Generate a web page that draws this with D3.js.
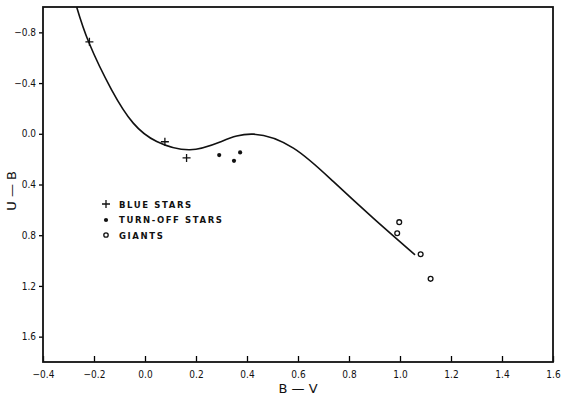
<!DOCTYPE html>
<html>
<head>
<meta charset="utf-8">
<script src="https://cdn.jsdelivr.net/npm/d3@7"></script>
<style>
  body { margin: 0; background: #fff; }
  svg { display: block; }
</style>
</head>
<body>
<div id="chart"></div>
<script>
// two-colour diagram, B-V vs U-B
const xTicks = [-0.4, -0.2, 0.0, 0.2, 0.4, 0.6, 0.8, 1.0, 1.2, 1.4, 1.6];
const yTicks = [-0.8, -0.4, 0.0, 0.4, 0.8, 1.2, 1.6];

const curveBV = [-0.268, -0.22, -0.131, -0.046, 0.046, 0.176, 0.30, 0.425, 0.582, 0.738, 0.895, 1.059];
const curveUB = [-1.0, -0.72, -0.347, -0.084, 0.061, 0.126, 0.06, 0.003, 0.113, 0.376, 0.665, 0.955];

const blueBV = [-0.218, 0.078, 0.163];
const blueUB = [-0.725, 0.063, 0.19];
const turnBV = [0.291, 0.349, 0.373];
const turnUB = [0.168, 0.213, 0.147];
const giantBV = [0.997, 0.989, 1.081, 1.12];
const giantUB = [0.697, 0.784, 0.95, 1.144];

const legendLabels = ["BLUE STARS", "TURN-OFF STARS", "GIANTS"];

const width = 570, height = 399;
const margin = {top: 7, right: 17, bottom: 37, left: 43};

const svg = d3.select("#chart").append("svg")
  .attr("width", width)
  .attr("height", height);

const x = d3.scaleLinear()
  .domain([-0.4, 1.6])
  .range([margin.left, width - margin.right]);

const y = d3.scaleLinear()
  .domain([-1.0, 1.8])
  .range([margin.top, height - margin.bottom]);

const tickFont = "'DejaVu Sans Condensed', 'DejaVu Sans', sans-serif";

// x axis, ticks point inward
svg.append("g")
  .attr("transform", `translate(0, ${y(1.8)})`)
  .call(d3.axisBottom(x).tickValues(xTicks).tickSizeInner(-6).tickSizeOuter(0)
    .tickPadding(9).tickFormat(d3.format(".1f")))
  .call(g => g.select(".domain").remove())
  .call(g => g.selectAll("line").attr("stroke-width", 1.3))
  .call(g => g.selectAll("text").style("font", `10px ${tickFont}`).attr("fill", "#111"));

// y axis, ticks point outward
svg.append("g")
  .attr("transform", `translate(${x(-0.4)}, 0)`)
  .call(d3.axisLeft(y).tickValues(yTicks).tickSizeInner(4).tickSizeOuter(0)
    .tickPadding(3).tickFormat(d3.format(".1f")))
  .call(g => g.select(".domain").remove())
  .call(g => g.selectAll("line").attr("stroke-width", 1.3))
  .call(g => g.selectAll("text").style("font", `10px ${tickFont}`).attr("fill", "#111"));

// frame
svg.append("rect")
  .attr("x", x(-0.4))
  .attr("y", y(-1.0))
  .attr("width", x(1.6) - x(-0.4))
  .attr("height", y(1.8) - y(-1.0))
  .attr("fill", "none")
  .attr("stroke", "#111")
  .attr("stroke-width", 1.8);

// axis titles
svg.append("text")
  .attr("x", (x(-0.4) + x(1.6)) / 2)
  .attr("y", 393)
  .attr("text-anchor", "middle")
  .style("font", "13px 'DejaVu Sans', sans-serif")
  .attr("fill", "#111")
  .text("B — V");

svg.append("text")
  .attr("transform", `translate(16, ${y(0.45)}) rotate(-90)`)
  .attr("text-anchor", "middle")
  .style("font", "13px 'DejaVu Sans', sans-serif")
  .attr("fill", "#111")
  .text("U — B");

// curve
const curvePts = curveBV.map((v, i) => [v, curveUB[i]]);
svg.append("path")
  .datum(curvePts)
  .attr("fill", "none")
  .attr("stroke", "#111")
  .attr("stroke-width", 1.6)
  .attr("d", d3.line().x(d => x(d[0])).y(d => y(d[1])).curve(d3.curveNatural));

// markers
const plus = (g, cx, cy, s) => g.append("path")
  .attr("d", `M${cx - s},${cy}H${cx + s}M${cx},${cy - s}V${cy + s}`)
  .attr("stroke", "#111").attr("stroke-width", 1.3).attr("fill", "none");

const marks = svg.append("g");
blueBV.forEach((v, i) => plus(marks, x(v), y(blueUB[i]), 4));

marks.selectAll("circle.turn")
  .data(turnBV.map((v, i) => [v, turnUB[i]]))
  .join("circle")
  .attr("class", "turn")
  .attr("cx", d => x(d[0]))
  .attr("cy", d => y(d[1]))
  .attr("r", 2.1)
  .attr("fill", "#111");

marks.selectAll("circle.giant")
  .data(giantBV.map((v, i) => [v, giantUB[i]]))
  .join("circle")
  .attr("class", "giant")
  .attr("cx", d => x(d[0]))
  .attr("cy", d => y(d[1]))
  .attr("r", 2.4)
  .attr("fill", "none")
  .attr("stroke", "#111")
  .attr("stroke-width", 1.3);

// legend
const legend = svg.append("g").attr("transform", "translate(106, 204)");
plus(legend, 0, 0, 4);
legend.append("circle").attr("cx", 0).attr("cy", 16).attr("r", 2.1).attr("fill", "#111");
legend.append("circle").attr("cx", 0).attr("cy", 31).attr("r", 2.2)
  .attr("fill", "none").attr("stroke", "#111").attr("stroke-width", 1.3);

legend.selectAll("text")
  .data(legendLabels)
  .join("text")
  .attr("x", 13)
  .attr("y", (d, i) => i * 15.5 + 3.5)
  .style("font", "bold 8.5px 'DejaVu Sans', sans-serif")
  .style("letter-spacing", "1.6px")
  .attr("fill", "#111")
  .text(d => d);
</script>
</body>
</html>
